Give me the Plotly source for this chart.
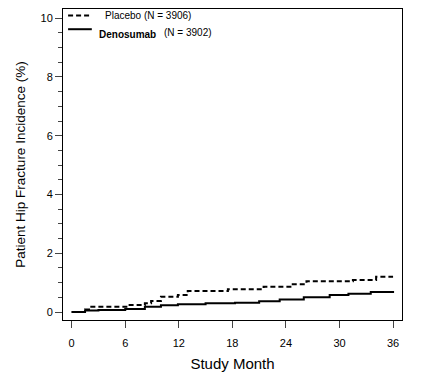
import plotly.graph_objects as go

# Step-function data (month, cumulative incidence %)
placebo_month = [0, 1.5, 2.2, 6.3, 8.2, 8.9, 10, 11.9, 13, 17.5, 21.5, 24.5, 26.3, 31.5, 34.1, 36]
placebo_value = [0, 0.09, 0.18, 0.24, 0.3, 0.38, 0.52, 0.58, 0.72, 0.78, 0.86, 0.95, 1.05, 1.09, 1.2, 1.2]

denosumab_month = [0, 1.5, 3, 6, 8.2, 10, 11.9, 15, 18.3, 21, 23.3, 26, 28.9, 31, 33.5, 36]
denosumab_value = [0, 0.05, 0.07, 0.1, 0.18, 0.23, 0.27, 0.3, 0.32, 0.37, 0.43, 0.5, 0.58, 0.62, 0.68, 0.72]

x_ticks = [0, 6, 12, 18, 24, 30, 36]
y_ticks = [0, 2, 4, 6, 8, 10]

FONT = "Liberation Sans, Arial, sans-serif"

fig = go.Figure()
fig.add_trace(go.Scatter(x=placebo_month, y=placebo_value, mode="lines", line_shape="hv",
                         line=dict(color="black", width=2, dash="5px,3px"), showlegend=False))
fig.add_trace(go.Scatter(x=denosumab_month, y=denosumab_value, mode="lines", line_shape="hv",
                         line=dict(color="black", width=2), showlegend=False))

# manual legend
fig.add_shape(type="line", xref="paper", yref="paper", x0=0.015, x1=0.085, y0=0.979, y1=0.979,
              line=dict(color="black", width=2, dash="5px,3px"))
fig.add_shape(type="line", xref="paper", yref="paper", x0=0.015, x1=0.085, y0=0.935, y1=0.935,
              line=dict(color="black", width=2))
fig.add_annotation(xref="paper", yref="paper", x=0.118, y=0.979, text="Placebo (N = 3906)",
                   showarrow=False, xanchor="left", yanchor="middle",
                   font=dict(family=FONT, size=10, color="black"))
fig.add_annotation(xref="paper", yref="paper", x=0.1, y=0.918, text="<b>Denosumab</b>",
                   showarrow=False, xanchor="left", yanchor="middle",
                   font=dict(family=FONT, size=10, color="black"))
fig.add_annotation(xref="paper", yref="paper", x=0.292, y=0.925, text="(N = 3902)",
                   showarrow=False, xanchor="left", yanchor="middle",
                   font=dict(family=FONT, size=10, color="black"))

# page body has an 8px margin, so the figure is sized/placed to compensate
fig.update_layout(
    width=422, height=374,
    margin=dict(l=55, r=28, t=1, b=62),
    paper_bgcolor="white", plot_bgcolor="white",
    font=dict(family=FONT, color="black", size=11),
    xaxis=dict(range=[-0.97, 37.0], tickvals=x_ticks, ticks="outside", ticklen=7,
               ticklabelstandoff=6,
               showline=True, mirror=True, linecolor="black", linewidth=1,
               showgrid=False, zeroline=False, automargin=False,
               title=dict(text="Study Month", font=dict(size=15), standoff=10),
               tickfont=dict(size=11)),
    yaxis=dict(range=[-0.27, 10.31], tickvals=y_ticks, ticks="outside", ticklen=7,
               showline=True, mirror=True, linecolor="black", linewidth=1,
               showgrid=False, zeroline=False, automargin=False,
               minor=dict(dtick=0.5, tick0=0, ticks="outside", ticklen=4, showgrid=False),
               title=dict(text="Patient Hip Fracture Incidence (%)", font=dict(size=13.5), standoff=11),
               tickfont=dict(size=11)),
)

fig.write_html("out.html")
